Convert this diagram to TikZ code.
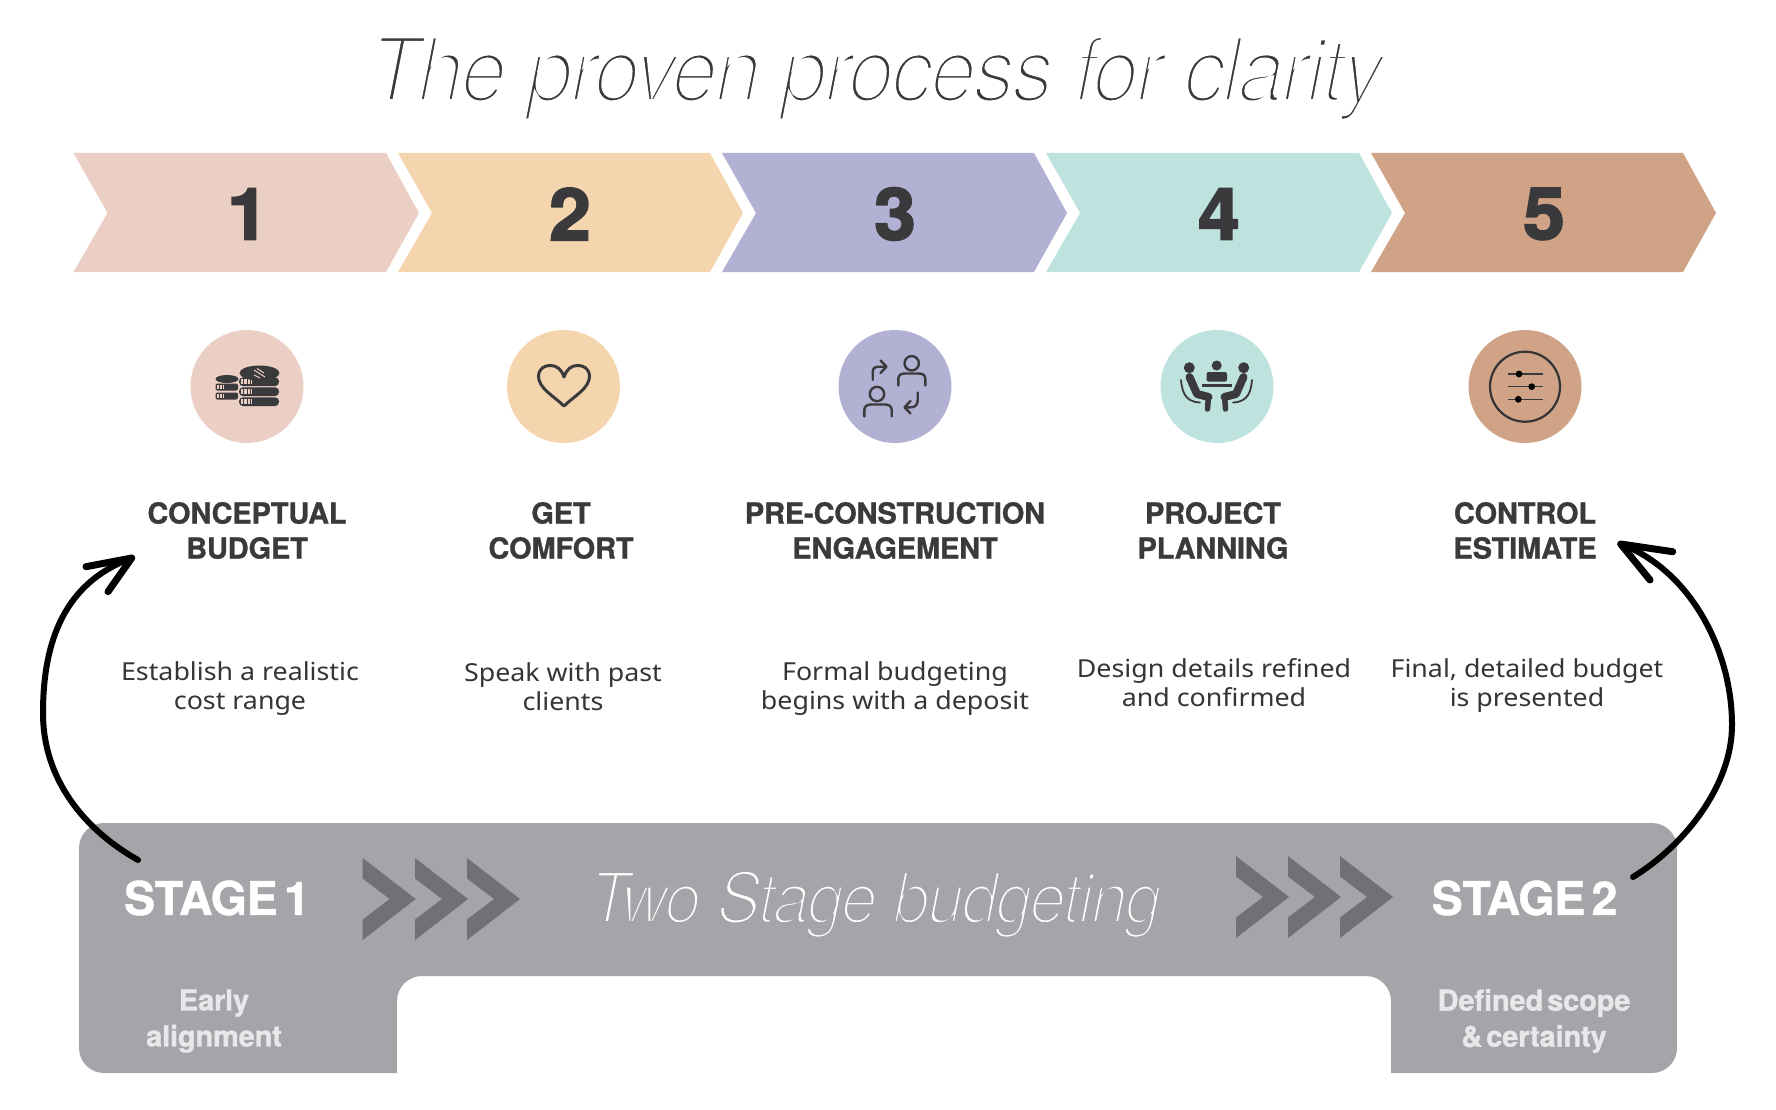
\documentclass[tikz,border=0pt]{standalone}
\usepackage{fontspec}
\setmainfont[FakeStretch=1.08]{Noto Sans}
\newfontfamily\thinf[FakeStretch=0.92,LetterSpace=-3]{TeX Gyre Heros}
\newfontfamily\heavyf[FakeBold=1,LetterSpace=-0.5,WordSpace=0.5]{TeX Gyre Heros Bold}
\newfontfamily\digf[FakeBold=2.6,FakeStretch=1.04]{TeX Gyre Heros Bold}
\definecolor{cA}{HTML}{EBCFC4}
\definecolor{cB}{HTML}{F4D5AE}
\definecolor{cC}{HTML}{B3B1D3}
\definecolor{cD}{HTML}{BEE2DE}
\definecolor{cE}{HTML}{D1A386}
\definecolor{ink}{HTML}{3A3A3D}
\definecolor{bandgray}{HTML}{A6A4A8}
\definecolor{chevgray}{HTML}{727074}
\definecolor{softwhite}{HTML}{E8E8EA}
\newcommand{\thinned}[3]{\special{pdf:code 2 Tr #1 w #2 RG}#3\special{pdf:code 0 Tr 1 w}}
\tikzset{
  x=1pt,y=-1pt,
  digit/.style={font=\digf\fontsize{72}{72}\selectfont,text=ink,inner sep=0},
  headtxt/.style={font=\heavyf\fontsize{29}{35}\selectfont,text=ink,align=center,inner sep=0},
  desctxt/.style={font=\fontsize{24.8}{29}\selectfont,text=ink!92!black,align=center,inner sep=0},
  stagetxt/.style={font=\heavyf\fontsize{46.5}{46.5}\selectfont,text=white,inner sep=0},
  subtxt/.style={font=\heavyf\fontsize{29}{36}\selectfont,text=softwhite,align=center,inner sep=0},
  iconcircle/.style={circle,minimum size=113,inner sep=0},
  loopcurve/.style={draw=black,line width=6,line cap=round,line join=round},
  loophead/.style={draw=black,line width=7,line cap=round,line join=round},
  iconline/.style={draw=ink,line width=3,line cap=round,line join=round},
}
\newcommand{\chev}[3]{\fill[#3] (#1,153) -- (#2,153) -- (#2+33,213) -- (#2,272) -- (#1,272) -- (#1+34,213) -- cycle;}
\newcommand{\minichev}[2]{\fill[chevgray] (#1,#2-41) -- (#1+53,#2) -- (#1,#2+41) -- (#1,#2+20.5) -- (#1+27,#2) -- (#1,#2-20.5) -- cycle;}
\begin{document}
\begin{tikzpicture}
\useasboundingbox (0,0) rectangle (1776,1110);
\node[font=\thinf\fontsize{90}{90}\selectfont\itshape,text=ink,inner sep=0,anchor=base] (title) at (876.5,101.5) {\thinned{4.8}{1 1 1}{The proven process for clarity}};
\chev{73.5}{386}{cA}
\chev{398}{710}{cB}
\chev{722}{1034}{cC}
\chev{1046}{1359}{cD}
\chev{1371}{1683}{cE}
\node[digit] (d1) at (248,214) {1};
\node[digit] (d2) at (570,214) {2};
\node[digit] (d3) at (895,214) {3};
\node[digit] (d4) at (1219,214) {4};
\node[digit] (d5) at (1544,214) {5};
\node[iconcircle,fill=cA] (c1) at (247,386.5) {};
\node[iconcircle,fill=cB] (c2) at (563.5,386.5) {};
\node[iconcircle,fill=cC] (c3) at (895,386.5) {};
\node[iconcircle,fill=cD] (c4) at (1217,386.5) {};
\node[iconcircle,fill=cE] (c5) at (1525,386.5) {};
% coins
\foreach \yy in {381.5,391.5,401.5}{
  \fill[ink,rounded corners=4] (239,\yy-4.2) rectangle (279,\yy+4.6);
  \fill[cA] (240.5,\yy-2.5) rectangle (252,\yy+2);
  \foreach \xx in {243,246.5,250}{\fill[ink] (\xx,\yy-2.5) rectangle (\xx+1,\yy+2);}
}
\fill[ink] (259.5,373) ellipse [x radius=20,y radius=7.5];
\draw[cA,line width=1] (254,370) -- (265,377) (257,368.5) -- (264,373) (254,375) -- (260,378);
\fill[ink] (227,379) ellipse [x radius=11.5,y radius=4];
\foreach \yy in {387,396}{
  \fill[ink,rounded corners=2] (215.5,\yy-3.5) rectangle (238,\yy+3.5);
  \fill[cA] (217,\yy-2) rectangle (224,\yy+1.5);
  \foreach \xx in {219,221.5}{\fill[ink] (\xx,\yy-2) rectangle (\xx+.8,\yy+1.5);}
}
% heart
\draw[iconline] (564,406) .. controls (555,397) and (538,388) .. (538.5,376) .. controls (539,368) and (545,365.5) .. (550,365.5) .. controls (556,365.5) and (561,368) .. (564,377) .. controls (567,368) and (572,365.5) .. (578,365.5) .. controls (583,365.5) and (589,368) .. (589.5,376) .. controls (590,388) and (573,397) .. (564,406) -- cycle;
% exchange
\begin{scope}[xshift=1pt]
\draw[iconline,line width=2.4] (910.7,363.3) circle (7.2);
\draw[iconline,line width=2.4] (897.3,385.5) -- (897.3,379) .. controls (897.3,375) and (900,373.5) .. (904,373.5) -- (918,373.5) .. controls (921.5,373.5) and (924.3,375) .. (924.3,379) -- (924.3,385.5);
\draw[iconline,line width=2.4] (876,394) circle (7.2);
\draw[iconline,line width=2.4] (863.3,416.5) -- (863.3,410) .. controls (863.3,406.5) and (866,404.5) .. (870,404.5) -- (884,404.5) .. controls (888,404.5) and (890.7,406.5) .. (890.7,410) -- (890.7,416.5);
\draw[iconline,line width=2.4] (871.7,380) -- (871.7,372) .. controls (871.7,368) and (874,366.7) .. (878,366.7) -- (884.5,366.7);
\draw[iconline,line width=2.4] (879.5,360.5) -- (885.5,366.7) -- (879.5,373);
\draw[iconline,line width=2.4] (916.7,392.5) -- (916.7,400) .. controls (916.7,405) and (914,407.3) .. (910,407.3) -- (904,407.3);
\draw[iconline,line width=2.4] (909.5,401) -- (903.5,407.3) -- (909.5,413.5);
\end{scope}
% meeting
\fill[ink] (1189.3,367.7) circle (5.5) (1243.7,367.7) circle (5.5) (1216.7,365.5) circle (5);
\fill[ink,rounded corners=2] (1206.5,372) rectangle (1227,381.5);
\fill[ink] (1201.5,383.5) rectangle (1231.5,387);
\draw[ink,line width=8,line cap=round,line join=round] (1189.5,377) -- (1197,394) -- (1208.5,397);
\draw[ink,line width=8,line cap=round,line join=round] (1243.5,377) -- (1236,394) -- (1224.5,397);
\draw[ink,line width=5.5,line cap=round] (1208.5,396) -- (1207.5,409);
\draw[ink,line width=5.5,line cap=round] (1224.5,396) -- (1225.5,409);
\draw[ink,line width=1.8,line cap=round] (1181,380) .. controls (1182,390) and (1184,402) .. (1200,402.5);
\draw[ink,line width=1.8,line cap=round] (1252,380) .. controls (1251,390) and (1249,402) .. (1233,402.5);
% sliders
\draw[ink!90!black,line width=2.2] (1525,386.7) circle (35);
\draw[ink,line width=1.5] (1508.3,374) -- (1543.3,374) (1508.3,386.7) -- (1543.3,386.7) (1508.3,399.3) -- (1543.3,399.3);
\fill[black] (1519,374) circle (3.4) (1531.7,386.7) circle (3.4) (1518.3,399.3) circle (3.4);
% headings
\node[headtxt] (h1) at (247,530.5) {CONCEPTUAL\\BUDGET};
\node[headtxt] (h2) at (561,530.5) {GET\\COMFORT};
\node[headtxt] (h3) at (895,530.5) {PRE-CONSTRUCTION\\ENGAGEMENT};
\node[headtxt] (h4) at (1213,530.5) {PROJECT\\PLANNING};
\node[headtxt] (h5) at (1525,530.5) {CONTROL\\ESTIMATE};
% descriptions
\node[desctxt] (t1) at (240,689) {Establish a realistic\\cost range};
\node[desctxt] (t2) at (563,687) {Speak with past\\clients};
\node[desctxt] (t3) at (895,689) {Formal budgeting\\begins with a deposit};
\node[desctxt] (t4) at (1214,682.5) {Design details refined\\and confirmed};
\node[desctxt] (t5) at (1527,685.5) {Final, detailed budget\\is presented};
% band
\fill[bandgray,rounded corners=25] (397,1073) [sharp corners] -- (397,1073) [rounded corners=25] -- (79,1073) -- (79,823) -- (1677,823) -- (1677,1073) [sharp corners] -- (1391,1073) [rounded corners=25] -- (1391,976) -- (397,976) [sharp corners] -- (397,1073) -- cycle;
\minichev{362.7}{899}\minichev{415}{899}\minichev{467}{899}
\minichev{1236}{897}\minichev{1288}{897}\minichev{1340}{897}
\node[stagetxt] (s1) at (217,898) {STAGE 1};
\node[stagetxt] (s2) at (1524.6,898) {STAGE 2};
\node[font=\thinf\fontsize{71}{71}\selectfont\itshape,text=white,inner sep=0,anchor=base] (band) at (875.5,923) {\thinned{3.6}{.651 .643 .659}{Two Stage budgeting}};
\node[subtxt] (e1) at (214,1021) {Early\\alignment};
\node[subtxt] (e2) at (1534,1021) {Defined scope\\\& certainty};
% loop arrows
\coordinate (la) at (138,860);
\coordinate (lb) at (43,713);
\coordinate (lc) at (131.7,558);
\coordinate (ld) at (86,566.7);
\coordinate (le) at (108,591.7);
\coordinate (ra) at (1633,877);
\coordinate (rb) at (1732,725);
\coordinate (rc) at (1620.7,544);
\coordinate (rd) at (1672.7,551.7);
\coordinate (re) at (1650,580);
\draw[loopcurve] (la) .. controls (85,830) and (43,780) .. (lb) .. controls (43,630) and (72,580) .. (lc);
\draw[loophead] (ld) -- (lc) -- (le);
\draw[loopcurve] (ra) .. controls (1685,845) and (1732,785) .. (rb) .. controls (1732,650) and (1690,570) .. (rc);
\draw[loophead] (rd) -- (rc) -- (re);
\end{tikzpicture}
\end{document}
